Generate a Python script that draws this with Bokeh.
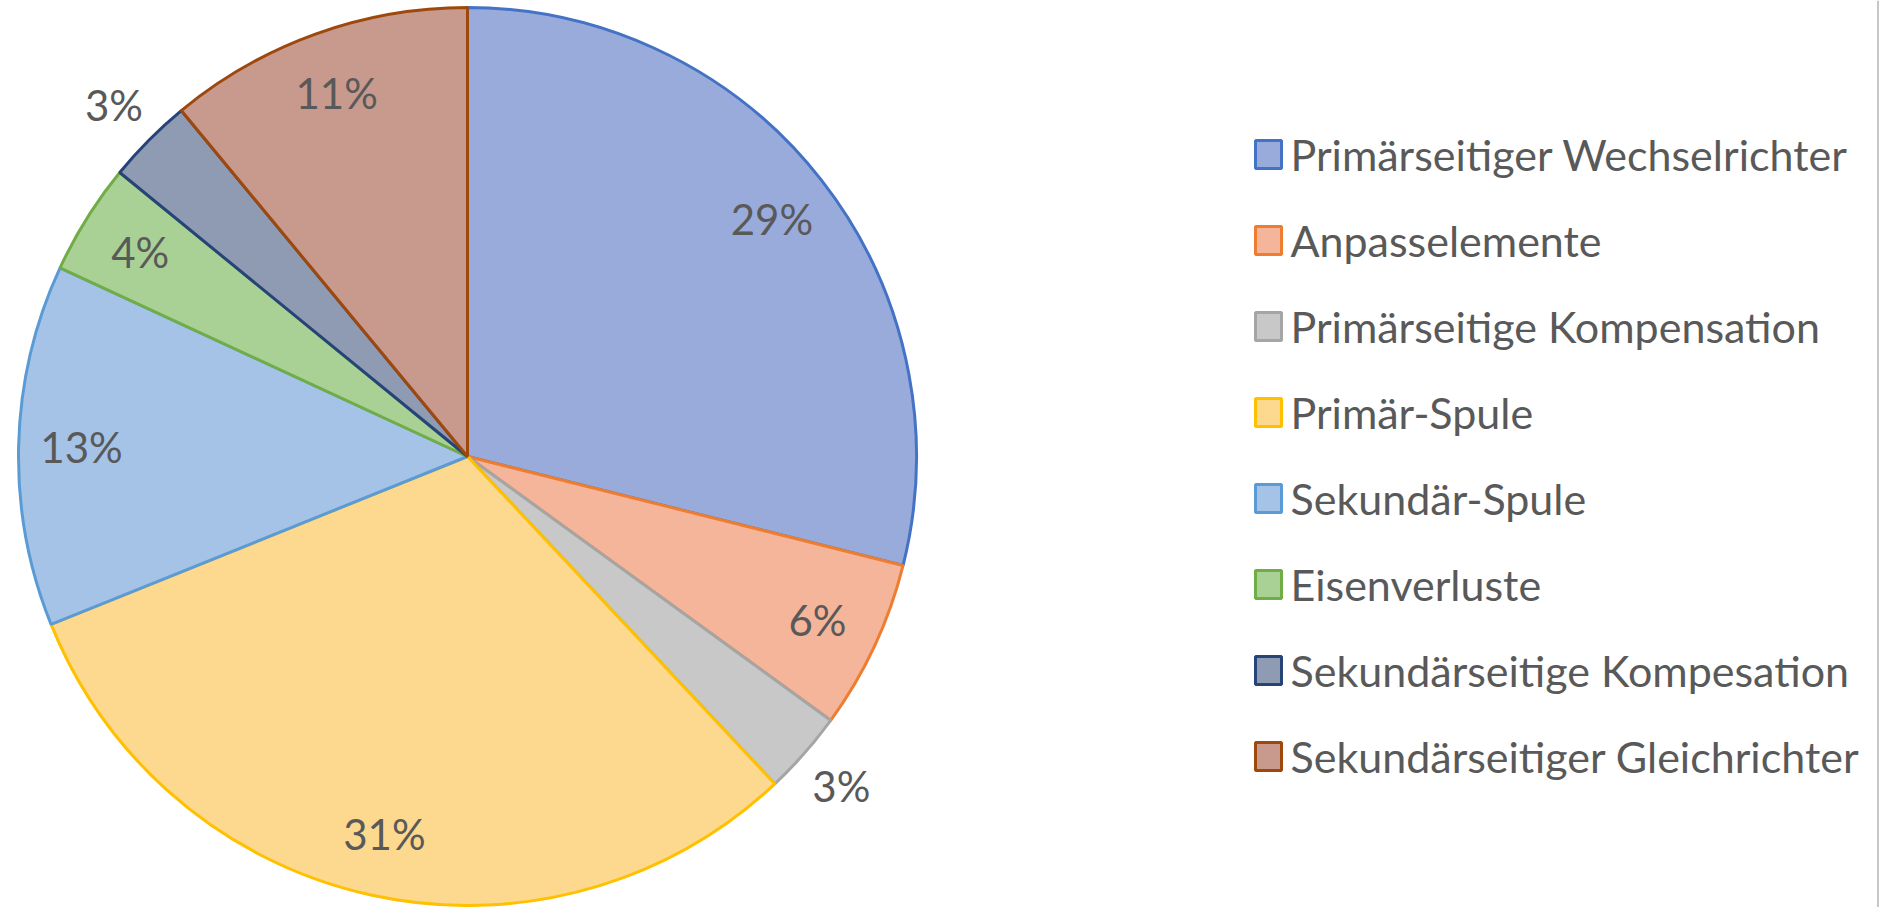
import math
from bokeh.plotting import figure
from bokeh.models import Range1d, ColumnDataSource
from bokeh.core.properties import value
from bokeh.embed import file_html
from bokeh.resources import INLINE

# ---- data ----
categories = [
    "Primärseitiger Wechselrichter",
    "Anpasselemente",
    "Primärseitige Kompensation",
    "Primär-Spule",
    "Sekundär-Spule",
    "Eisenverluste",
    "Sekundärseitige Kompesation",
    "Sekundärseitiger Gleichrichter",
]
shares = [28.9, 6.1, 3.0, 30.9, 13.0, 4.0, 3.1, 11.0]
label_texts = [f"{round(v)}%" for v in shares]

# ---- style ----
fill_colors = ["#99ABDB", "#F5B59A", "#C8C8C8", "#FDD88F",
               "#A5C3E6", "#A9D196", "#8F9AB3", "#C89A8E"]
line_colors = ["#4472C4", "#ED7D31", "#A5A5A5", "#FFC000",
               "#5B9BD5", "#70AD47", "#264478", "#9E480E"]
label_outside = [False, False, True, False, False, False, True, False]
text_color = "#595959"
FONT = "Lato"

W, H = 1880, 907
CX, CY, R = 467, H - 456, 449

total = sum(shares)
starts, ends, lx, ly = [], [], [], []
cum = 0.0
for v, out in zip(shares, label_outside):
    a0 = math.pi / 2 - 2 * math.pi * cum / total
    cum += v
    a1 = math.pi / 2 - 2 * math.pi * cum / total
    starts.append(a0)
    ends.append(a1)
    mid = (a0 + a1) / 2
    rf = 1.11 if out else 0.86
    lx.append(CX + rf * R * math.cos(mid))
    ly.append(CY + rf * R * math.sin(mid))

src = ColumnDataSource(dict(cat=categories, start=starts, end=ends,
                            fill=fill_colors, line=line_colors,
                            lx=lx, ly=ly, txt=label_texts))

p = figure(width=W, height=H, x_range=Range1d(0, W), y_range=Range1d(0, H),
           output_backend="svg", toolbar_location=None, min_border=0)
p.axis.visible = False
p.grid.visible = False
p.outline_line_color = None
p.background_fill_color = "white"

p.wedge(x=CX, y=CY, radius=R, start_angle="start", end_angle="end",
        direction="clock", fill_color="fill", line_color="line",
        line_width=3, source=src)

p.text(x="lx", y="ly", text="txt", source=src, text_align="center",
       text_baseline="middle", text_color=text_color,
       text_font=value(FONT), text_font_size="42px")

# legend (drawn manually)
n = len(categories)
row0, step = H - 154, 86.0
leg_y = [row0 - i * step for i in range(n)]
leg_src = ColumnDataSource(dict(y=leg_y, cat=categories,
                                fill=fill_colors, line=line_colors))
p.rect(x=1268, y="y", width=26, height=28, fill_color="fill",
       line_color="line", line_width=3, source=leg_src)
p.text(x=1290, y="y", text="cat", source=leg_src, text_align="left",
       text_baseline="middle", text_color=text_color,
       text_font=value(FONT), text_font_size="43px")

# chart-area border at the right edge
p.segment(x0=1877.5, y0=0, x1=1877.5, y1=H, line_color="#B4B4B4",
          line_width=1.5)

open("out.html", "w").write(file_html(p, INLINE))
